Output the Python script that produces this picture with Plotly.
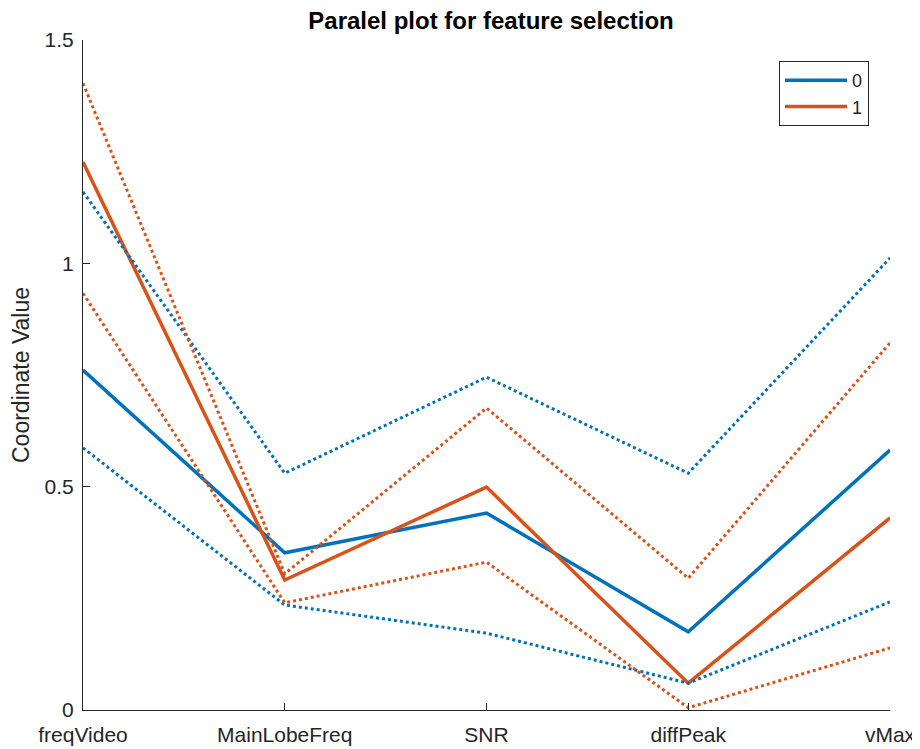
import plotly.graph_objects as go

features = ["freqVideo", "MainLobeFreq", "SNR", "diffPeak", "vMax"]
groups = ["0", "1"]

median_0 = [0.761, 0.352, 0.441, 0.175, 0.582]
q25_0 = [0.587, 0.235, 0.172, 0.060, 0.242]
q75_0 = [1.160, 0.530, 0.745, 0.530, 1.012]

median_1 = [1.227, 0.291, 0.499, 0.060, 0.430]
q25_1 = [0.933, 0.240, 0.331, 0.005, 0.139]
q75_1 = [1.403, 0.305, 0.676, 0.295, 0.822]

colors = {"0": "#0072BD", "1": "#D95319"}
xpos = list(range(1, len(features) + 1))

fig = go.Figure()
data = {"0": (median_0, q25_0, q75_0), "1": (median_1, q25_1, q75_1)}
for g in groups:
    med, lo, hi = data[g]
    fig.add_trace(go.Scatter(x=xpos, y=med, mode="lines", name=g,
                             line=dict(color=colors[g], width=3.5), legendgroup=g))
for g in groups:
    med, lo, hi = data[g]
    for arr in (lo, hi):
        fig.add_trace(go.Scatter(x=xpos, y=arr, mode="lines", showlegend=False,
                                 line=dict(color=colors[g], width=3, dash="dot"),
                                 legendgroup=g))

font = "Liberation Sans, Arial, sans-serif"
axis_col = "#262626"
OFF = 8  # page body margin
W, H = 920 - OFF, 749 - OFF
L, R, T, B = 83 - OFF, 890 - OFF, 40 - OFF, 710 - OFF
fig.update_layout(
    width=W, height=H,
    margin=dict(l=L, r=W - R, t=T, b=H - B),
    paper_bgcolor="white", plot_bgcolor="white",
    font=dict(family=font, color=axis_col, size=18),
    title=dict(text="<b>Paralel plot for feature selection</b>", x=(491 - OFF) / W,
               xanchor="center", y=1 - (21 - OFF) / H, yanchor="middle",
               font=dict(size=24, color="#000000", family=font)),
    showlegend=True,
    legend=dict(x=(869 - OFF - L) / (R - L), xanchor="right",
                y=1 - (61 - OFF - T) / (B - T), yanchor="top",
                bordercolor="#262626", borderwidth=1, bgcolor="white",
                font=dict(size=18, color=axis_col), tracegroupgap=0, itemwidth=62),
)
fig.update_xaxes(range=[1, 5], tickvals=xpos, ticktext=features, showgrid=False, zeroline=False,
                 showline=True, linecolor=axis_col, linewidth=1, ticks="inside", ticklen=7,
                 tickcolor=axis_col, tickfont=dict(size=21, color=axis_col), ticklabelstandoff=6,
                 automargin=False)
fig.update_yaxes(range=[0, 1.5], tickvals=[0, 0.5, 1, 1.5], showgrid=False, zeroline=False,
                 showline=True, linecolor=axis_col, linewidth=1, ticks="inside", ticklen=7,
                 tickcolor=axis_col, tickfont=dict(size=21, color=axis_col), ticklabelstandoff=4,
                 title=dict(text="Coordinate Value", font=dict(size=23, color=axis_col), standoff=8),
                 automargin=False)

fig.write_html("out.html")
